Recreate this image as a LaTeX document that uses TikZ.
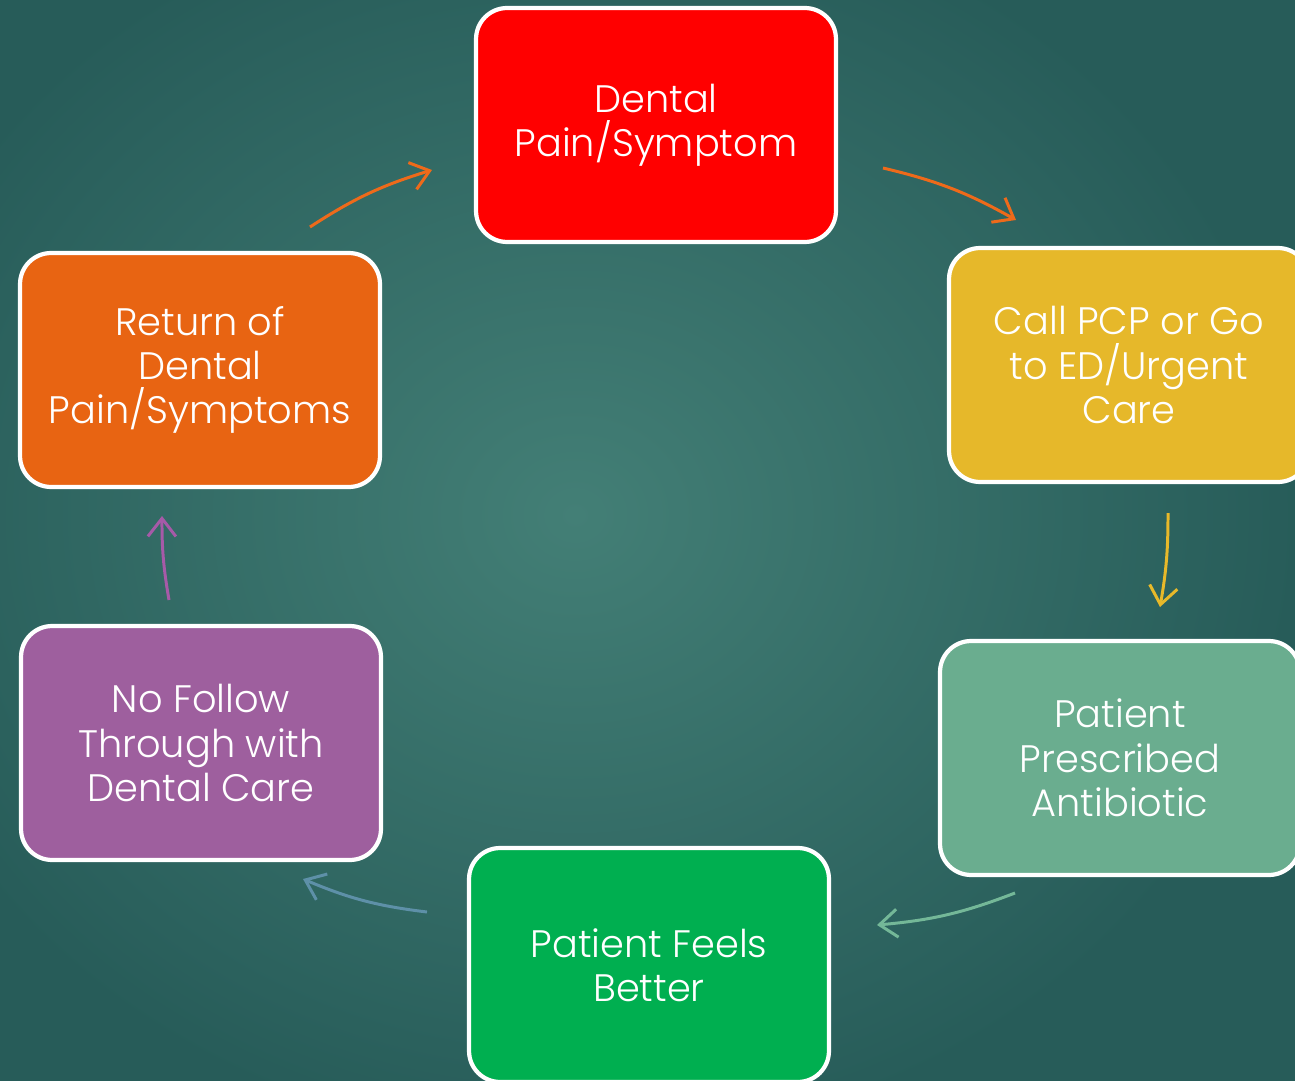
\documentclass[tikz,border=0pt]{standalone}
\usepackage{fontspec}
\setmainfont{Poppins Light}
\usetikzlibrary{arrows.meta}
\definecolor{bgin}{HTML}{437F76}
\definecolor{bgout}{HTML}{275C59}
\definecolor{cred}{HTML}{FF0000}
\definecolor{cyel}{HTML}{E6B82A}
\definecolor{csage}{HTML}{6AAD8F}
\definecolor{cgreen}{HTML}{00AF50}
\definecolor{cpurp}{HTML}{9E5F9E}
\definecolor{corng}{HTML}{E86412}
\definecolor{aorng}{HTML}{EE6A1A}
\definecolor{ayel}{HTML}{E8B92A}
\definecolor{asage}{HTML}{74B898}
\definecolor{ablue}{HTML}{5E90A8}
\definecolor{apurp}{HTML}{A65AA8}
\tikzset{
  stepbox/.style={draw=white, line width=2.4pt, rounded corners=0.62cm,
    minimum width=7.2cm, minimum height=4.68cm, align=center, text=white,
    font=\fontsize{21.8}{25.2}\selectfont, inner sep=0pt},
  flow/.style={line width=1.7pt, -{Straight Barb[length=3.6mm,width=5.6mm,line width=1.7pt]}}
}
\begin{document}
\begin{tikzpicture}[x=0.02cm,y=-0.02cm]
\useasboundingbox (0,0) rectangle (1295,1081);
\clip (0,0) rectangle (1295,1081);
\shade[inner color=bgin, outer color=bgout] (-150,-120) rectangle (1300,1150);
\node[stepbox, fill=cred] (pain) at (656,125) {Dental\\Pain/Symptom};
\node[stepbox, fill=cyel] (call) at (1129,365) {Call PCP or Go\\to ED/Urgent\\Care};
\node[stepbox, fill=csage] (abx) at (1120,758) {Patient\\Prescribed\\Antibiotic};
\node[stepbox, fill=cgreen] (better) at (649,965) {Patient Feels\\Better};
\node[stepbox, fill=cpurp] (nofollow) at (201,743) {No Follow\\Through with\\Dental Care};
\node[stepbox, fill=corng] (return) at (200,370) {Return of\\Dental\\Pain/Symptoms};
\coordinate (a1s) at (310,227); \coordinate (a1e) at (432,170);
\coordinate (a2s) at (883,168); \coordinate (a2e) at (1016,220);
\coordinate (a3s) at (1168,513); \coordinate (a3e) at (1160,607);
\coordinate (a4s) at (1015,893); \coordinate (a4e) at (877,925);
\coordinate (a5s) at (427,912); \coordinate (a5e) at (303,879);
\coordinate (a6s) at (169,600); \coordinate (a6e) at (162,516);
\draw[flow, aorng] (a1s) to[bend left=8] (a1e);
\draw[flow, aorng] (a2s) to[bend left=8] (a2e);
\draw[flow, ayel] (a3s) to[bend left=5] (a3e);
\draw[flow, asage] (a4s) to[bend left=8] (a4e);
\draw[flow, ablue] (a5s) to[bend left=8] (a5e);
\draw[flow, apurp] (a6s) to[bend left=5] (a6e);
\end{tikzpicture}
\end{document}
